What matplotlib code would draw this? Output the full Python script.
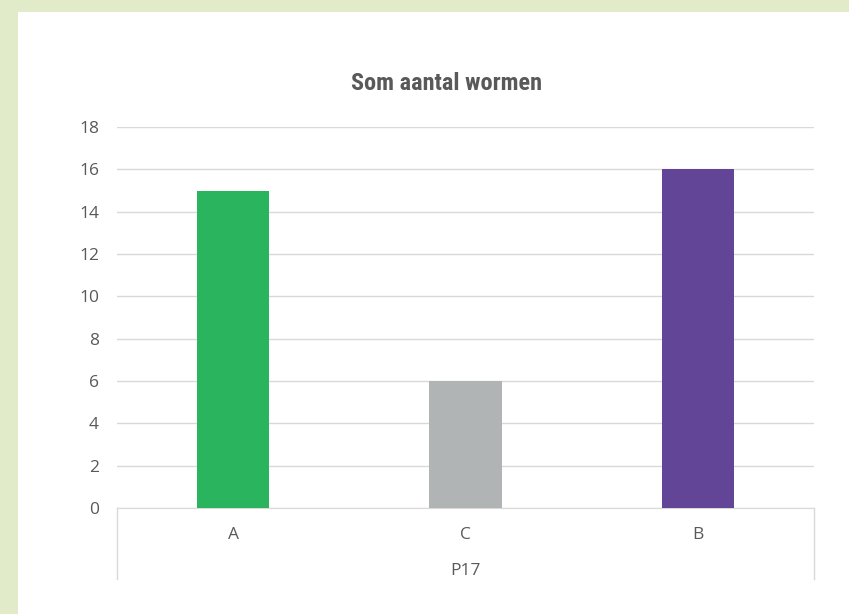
import matplotlib
matplotlib.use("Agg")
import matplotlib.pyplot as plt
from matplotlib.patches import Rectangle
from matplotlib.lines import Line2D

# data
categories = ["A", "C", "B"]
values = [15, 6, 16]
group_label = "P17"
bar_colors = ["#2AB45E", "#B1B4B5", "#634597"]
y_ticks = [0, 2, 4, 6, 8, 10, 12, 14, 16, 18]

text_col = "#595959"
grid_col = "#D9D9D9"

fig = plt.figure(figsize=(8.49, 6.14), dpi=100)
fig.patch.set_facecolor("#E1EBC9")
W, H = 849, 614

# white panel
fig.patches.append(Rectangle((18 / W, 0), 1, 1 - 12 / H, transform=fig.transFigure,
                             facecolor="white", edgecolor="none", zorder=-5))

x0, x1, yb, yt = 117, 814, 508, 127
ax = fig.add_axes([x0 / W, 1 - yb / H, (x1 - x0) / W, (yb - yt) / H], zorder=2)
ax.set_facecolor("none")

x = list(range(len(categories)))
ax.bar(x, values, width=0.31, color=bar_colors, zorder=3)
ax.set_xlim(-0.5, len(categories) - 0.5)
ax.set_ylim(0, 18)
ax.set_yticks(y_ticks)
ax.yaxis.grid(True, color=grid_col, linewidth=1)
ax.set_axisbelow(True)

for s in ["top", "right", "left"]:
    ax.spines[s].set_visible(False)
ax.spines["bottom"].set_color(grid_col)

ax.tick_params(axis="y", length=0, pad=13, labelsize=12.5, labelcolor=text_col)
ax.tick_params(axis="x", length=0, pad=14, labelsize=12.5, labelcolor=text_col)
for lab in ax.get_yticklabels() + ax.get_xticklabels():
    lab.set_fontfamily("Open Sans")
ax.set_xticks(x)
ax.set_xticklabels(categories)

# second level of the category axis
depth = (579 - yb) / (yb - yt)
for xa in (0, 1):
    ax.add_line(Line2D([xa, xa], [0, -depth], transform=ax.transAxes,
                       color=grid_col, linewidth=1, clip_on=False))
ax.text(0.5, -(571 - yb) / (yb - yt), group_label, transform=ax.transAxes,
        ha="center", va="center", fontsize=12.5, color=text_col, family="Open Sans")

fig.text((350 + 543) / 2 / W, 1 - 83 / H, "Som aantal wormen", ha="center", va="center",
         fontsize=17.5, fontweight="bold", color=text_col,
         family=["Roboto Condensed", "Roboto", "DejaVu Sans"])

fig.savefig("out.png", dpi=100, facecolor=fig.get_facecolor())
